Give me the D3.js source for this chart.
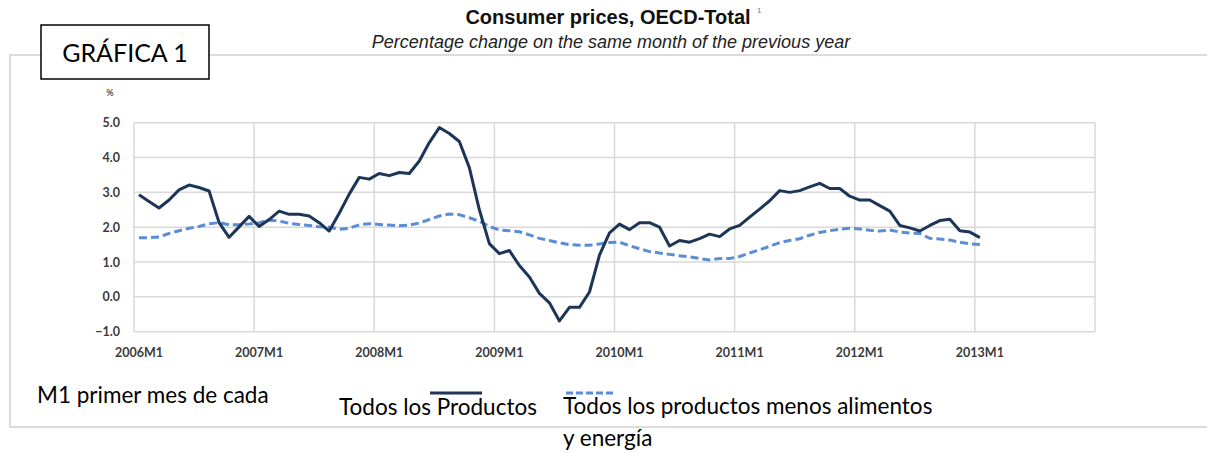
<!DOCTYPE html>
<html>
<head>
<meta charset="utf-8">
<script src="https://cdn.jsdelivr.net/npm/d3@7"></script>
<style>
  body { margin: 0; background: #fff; }
  svg text { font-family: Lato, "Open Sans", sans-serif; }
</style>
</head>
<body>
<svg id="chart" width="1207" height="453"></svg>
<script>
// years shown on the category axis (monthly categories 2006M1 .. 2013M12)
var years = [2006, 2007, 2008, 2009, 2010, 2011, 2012, 2013];
var tickLabels = ["2006M1", "2007M1", "2008M1", "2009M1", "2010M1", "2011M1", "2012M1", "2013M1"];
var yTicks = [-1, 0, 1, 2, 3, 4, 5];

// All items, % change same month previous year (2006M1 .. 2013M1)
var allItems = [
  2.93, 2.74, 2.55, 2.78, 3.07, 3.21, 3.14, 3.04, 2.13, 1.71, 2.01, 2.31,
  2.02, 2.22, 2.46, 2.37, 2.37, 2.32, 2.13, 1.89, 2.40, 2.95, 3.43, 3.38,
  3.54, 3.48, 3.57, 3.54, 3.90, 4.43, 4.86, 4.69, 4.46, 3.71, 2.50, 1.53,
  1.24, 1.33, 0.90, 0.57, 0.10, -0.17, -0.69, -0.30, -0.30, 0.14, 1.20, 1.84,
  2.09, 1.93, 2.13, 2.13, 2.00, 1.46, 1.62, 1.57, 1.67, 1.80, 1.73, 1.95,
  2.05, 2.29, 2.52, 2.76, 3.05, 3.00, 3.05, 3.16, 3.26, 3.11, 3.11, 2.89,
  2.78, 2.78, 2.62, 2.46, 2.05, 1.98, 1.89, 2.05, 2.19, 2.23, 1.90, 1.86,
  1.70
];

// All items less food and energy
var coreItems = [
  1.70, 1.70, 1.72, 1.82, 1.90, 1.97, 2.02, 2.10, 2.13, 2.07, 2.07, 2.09,
  2.13, 2.20, 2.18, 2.11, 2.08, 2.05, 2.01, 2.00, 1.94, 1.97, 2.07, 2.10,
  2.08, 2.06, 2.04, 2.06, 2.12, 2.22, 2.32, 2.38, 2.36, 2.27, 2.17, 2.02,
  1.92, 1.90, 1.87, 1.78, 1.68, 1.62, 1.55, 1.50, 1.48, 1.48, 1.52, 1.56,
  1.57, 1.47, 1.38, 1.30, 1.26, 1.22, 1.18, 1.15, 1.10, 1.06, 1.10, 1.10,
  1.16, 1.26, 1.35, 1.45, 1.56, 1.62, 1.67, 1.77, 1.85, 1.90, 1.94, 1.97,
  1.95, 1.91, 1.89, 1.92, 1.86, 1.83, 1.82, 1.68, 1.66, 1.63, 1.57, 1.52,
  1.50
];

var months = [];
years.forEach(function(yr) {
    for (var m = 1; m <= 12; m++) months.push(yr + "M" + m);
});

var svg = d3.select("#chart");
var plot = {left: 134, right: 1095, top: 122.7, bottom: 331.7};

var x = d3.scaleBand().domain(months).range([plot.left, plot.right]);
var y = d3.scaleLinear().domain([-1, 5]).range([plot.bottom, plot.top]);

// outer frame
svg.append("rect")
    .attr("x", 10).attr("y", 55)
    .attr("width", 1210).attr("height", 372)
    .attr("fill", "none")
    .attr("stroke", "#cfcfcf")
    .attr("stroke-width", 1.5);

// titles
svg.append("text")
    .attr("x", 608).attr("y", 24)
    .attr("text-anchor", "middle")
    .style("font-family", "'Liberation Sans', Arial, sans-serif")
    .style("font-weight", "bold")
    .style("font-size", "20px")
    .attr("fill", "#111")
    .text("Consumer prices, OECD-Total");
svg.append("text")
    .attr("x", 757).attr("y", 13)
    .style("font-family", "'Liberation Sans', Arial, sans-serif")
    .style("font-size", "8px")
    .attr("fill", "#777")
    .text("1");
svg.append("text")
    .attr("x", 611).attr("y", 48)
    .attr("text-anchor", "middle")
    .style("font-family", "'Liberation Sans', Arial, sans-serif")
    .style("font-style", "italic")
    .style("font-size", "18px")
    .attr("fill", "#222")
    .text("Percentage change on the same month of the previous year");

// gridlines
var grid = svg.append("g").attr("stroke", "#d9d9d9").attr("stroke-width", 1.5);
grid.selectAll(".hgrid")
    .data(yTicks)
    .enter().append("line")
        .attr("x1", plot.left).attr("x2", plot.right)
        .attr("y1", function(d) { return y(d); })
        .attr("y2", function(d) { return y(d); });
grid.selectAll(".vgrid")
    .data(tickLabels)
    .enter().append("line")
        .attr("x1", function(d) { return x(d); })
        .attr("x2", function(d) { return x(d); })
        .attr("y1", plot.top).attr("y2", plot.bottom);
grid.append("line")
    .attr("x1", plot.right).attr("x2", plot.right)
    .attr("y1", plot.top).attr("y2", plot.bottom);

// axes
var yAxis = svg.append("g")
    .attr("transform", "translate(" + plot.left + ",0)")
    .call(d3.axisLeft(y).tickValues(yTicks).tickFormat(d3.format(".1f")).tickSize(0).tickPadding(14));
var xAxis = svg.append("g")
    .attr("transform", "translate(0," + plot.bottom + ")")
    .call(d3.axisBottom(x).tickValues(tickLabels).tickSize(0).tickPadding(16));
[yAxis, xAxis].forEach(function(a) {
    a.select(".domain").remove();
    a.selectAll("text")
        .style("font-family", "Lato, sans-serif")
        .style("font-weight", "bold")
        .style("font-size", "12.5px")
        .attr("fill", "#3b3b3b");
});

svg.append("text")
    .attr("x", 110).attr("y", 96)
    .attr("text-anchor", "middle")
    .style("font-weight", "bold")
    .style("font-size", "9px")
    .attr("fill", "#555")
    .text("%");

// series
var line = d3.line()
    .x(function(d, i) { return x(months[i]) + x.bandwidth() / 2; })
    .y(function(d) { return y(d); });

svg.append("path")
    .datum(coreItems)
    .attr("d", line)
    .attr("fill", "none")
    .attr("stroke", "#5a8dd6")
    .attr("stroke-width", 3)
    .attr("stroke-dasharray", "8,4");

svg.append("path")
    .datum(allItems)
    .attr("d", line)
    .attr("fill", "none")
    .attr("stroke", "#1d3557")
    .attr("stroke-width", 3)
    .attr("stroke-linejoin", "round");

// label box
svg.append("rect")
    .attr("x", 41).attr("y", 25)
    .attr("width", 168).attr("height", 54)
    .attr("fill", "#fff")
    .attr("stroke", "#000")
    .attr("stroke-width", 1.5);
svg.append("text")
    .attr("x", 125).attr("y", 62)
    .attr("text-anchor", "middle")
    .style("font-size", "25px")
    .attr("fill", "#000")
    .text("GRÁFICA 1");

// legend / notes
var note = svg.append("g").style("font-size", "22.5px").attr("fill", "#000");
note.append("text").attr("x", 37).attr("y", 403).text("M1 primer mes de cada");
note.append("text").attr("x", 339).attr("y", 415).text("Todos los Productos");
note.append("text").attr("x", 563).attr("y", 414).text("Todos los productos menos alimentos");
note.append("text").attr("x", 563).attr("y", 446).text("y energía");

svg.append("line")
    .attr("x1", 430).attr("x2", 482)
    .attr("y1", 393).attr("y2", 393)
    .attr("stroke", "#1d3557").attr("stroke-width", 3);
svg.append("line")
    .attr("x1", 566).attr("x2", 616)
    .attr("y1", 393).attr("y2", 393)
    .attr("stroke", "#5a8dd6").attr("stroke-width", 3)
    .attr("stroke-dasharray", "7,3");
</script>
</body>
</html>
